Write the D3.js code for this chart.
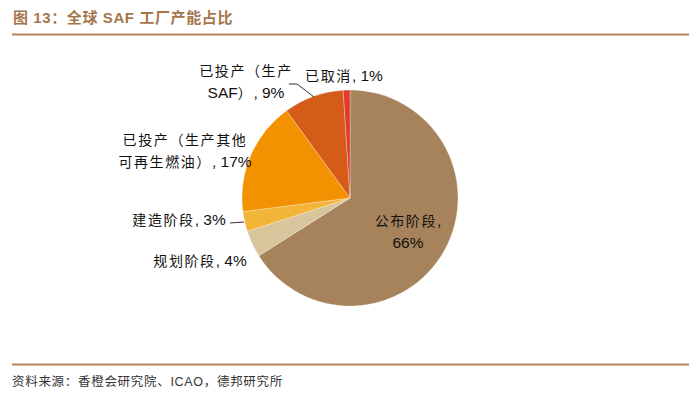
<!DOCTYPE html>
<html>
<head>
<meta charset="utf-8">
<script src="https://cdn.jsdelivr.net/npm/d3@7"></script>
<style>
  body { margin: 0; background: #fff; }
  svg { display: block; }
</style>
</head>
<body>
<script>
//pie data, clockwise from 12 o'clock
var categories = ["公布阶段", "规划阶段", "建造阶段", "已投产（生产其他可再生燃油）", "已投产（生产SAF）", "已取消"];
var values = [66, 4, 3, 17, 9, 1];
var colors = ["#a6835b", "#d8c59c", "#f2b538", "#f39200", "#d55b18", "#e2392b"];

//label lines as shown in the chart
var labelLines = [
    ["公布阶段,", "66%"],
    ["规划阶段, 4%"],
    ["建造阶段, 3%"],
    ["已投产（生产其他", "可再生燃油）, 17%"],
    ["已投产（生产", "SAF）, 9%"],
    ["已取消, 1%"]
];

(function(){

var width = 700,
    height = 399;

var svg = d3.select("body")
    .append("svg")
    .attr("width", width)
    .attr("height", height);

//title + rules
svg.append("text")
    .attr("x", 13)
    .attr("y", 23)
    .attr("fill", "#a5764e")
    .style("font-family", "'Liberation Sans', 'Noto Sans CJK SC', sans-serif")
    .style("font-size", "15px")
    .style("font-weight", "bold")
    .style("letter-spacing", "0.6px")
    .text("图 13：全球 SAF 工厂产能占比");

svg.append("line")
    .attr("x1", 12).attr("x2", 689)
    .attr("y1", 34.5).attr("y2", 34.5)
    .attr("stroke", "#b5835a")
    .attr("stroke-width", 2);

svg.append("line")
    .attr("x1", 12).attr("x2", 689)
    .attr("y1", 364.5).attr("y2", 364.5)
    .attr("stroke", "#b5835a")
    .attr("stroke-width", 2);

svg.append("text")
    .attr("x", 12)
    .attr("y", 386)
    .attr("fill", "#333")
    .style("font-family", "'Liberation Sans', 'Noto Sans CJK SC', sans-serif")
    .style("font-size", "12.5px")
    .style("letter-spacing", "0.7px")
    .text("资料来源：香橙会研究院、ICAO，德邦研究所");

//pie
var cx = 350, cy = 198, r = 108;

var pie = d3.pie().sort(null).value(function(d){ return d; });
var arc = d3.arc().innerRadius(0).outerRadius(r);
var arcs = pie(values);

var g = svg.append("g").attr("transform", "translate(" + cx + "," + cy + ")");

g.selectAll(".slice")
    .data(arcs)
    .enter()
    .append("path")
    .attr("class", "slice")
    .attr("d", arc)
    .attr("fill", function(d, i){ return colors[i]; })
    .attr("stroke", "#fff")
    .attr("stroke-width", 0.3);

//label anchor points (center of text block)
var labelPos = [[408, 232], [200, 261], [179, 220], [185, 151], [246, 82], [344, 76]];

//split a line into CJK runs and latin runs, so they can be styled apart
function runs(s){
    return s.match(/[\u3000-\u9fff\uff00-\uffef]+|[^\u3000-\u9fff\uff00-\uffef]+/g);
}

var labels = svg.selectAll(".lbl")
    .data(labelLines)
    .enter()
    .append("text")
    .attr("class", "lbl")
    .attr("text-anchor", "middle")
    .attr("fill", "#111");

labels.each(function(lines, i){
    var t = d3.select(this);
    var n = lines.length;
    lines.forEach(function(s, k){
        var line = t.append("tspan")
            .attr("x", labelPos[i][0])
            .attr("y", labelPos[i][1] + 5 + (k - (n - 1) / 2) * 22);
        runs(s).forEach(function(part){
            var cjk = /[\u3000-\u9fff\uff00-\uffef]/.test(part);
            line.append("tspan")
                .style("font-family", cjk ? "'Noto Sans CJK SC', sans-serif" : "'Liberation Sans', Arial, sans-serif")
                .style("font-size", cjk ? "14px" : "15.5px")
                .style("letter-spacing", cjk ? "1.6px" : "0px")
                .text(part);
        });
    });
});

//leader lines
var leader = d3.line();
svg.append("path")
    .attr("d", leader([[289, 84], [297, 84], [314, 97]]))
    .attr("fill", "none")
    .attr("stroke", "#333")
    .attr("stroke-width", 1);

svg.append("path")
    .attr("d", leader([[230, 223], [244, 222]]))
    .attr("fill", "none")
    .attr("stroke", "#333")
    .attr("stroke-width", 1);

})();
</script>
</body>
</html>
